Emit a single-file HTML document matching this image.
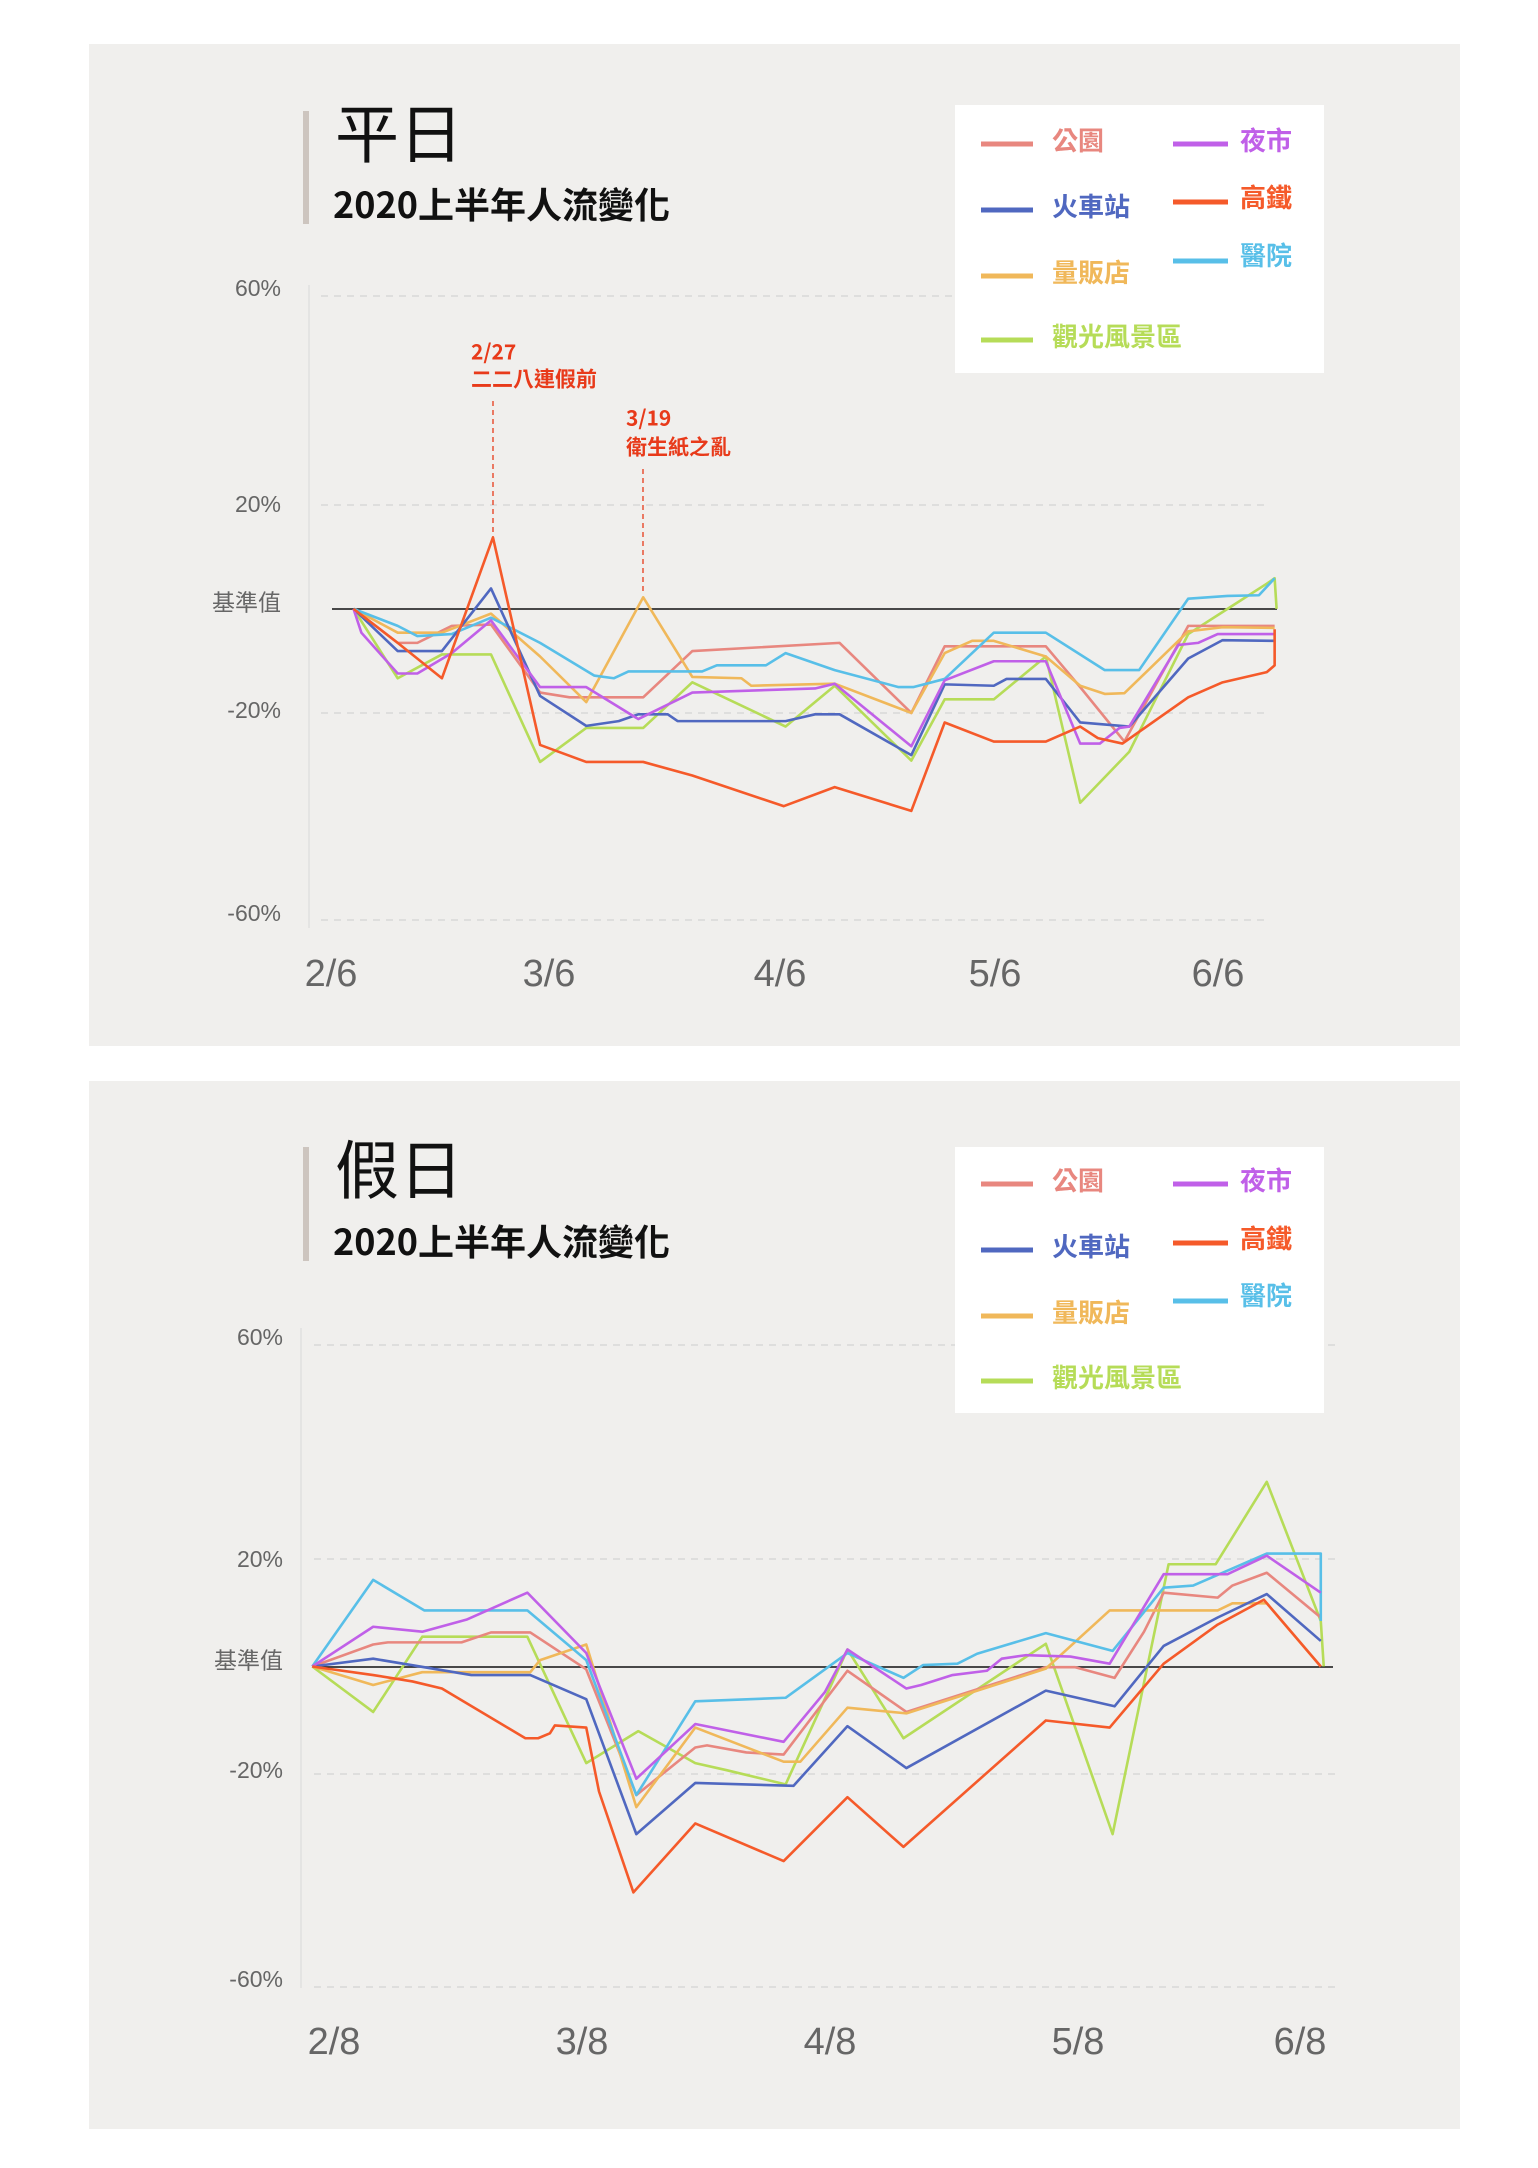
<!DOCTYPE html>
<html><head><meta charset="utf-8"><style>
html,body{margin:0;padding:0;background:#fff;}
svg{display:block;}
text{font-family:"Liberation Sans","Noto Sans CJK TC",sans-serif;}
.cj{font-family:"Noto Sans CJK TC","WenQuanYi Zen Hei",sans-serif;}
.ln{fill:none;stroke-width:2.6;vector-effect:non-scaling-stroke;stroke-linejoin:round;}
.yl{font-size:23px;fill:#666;text-anchor:end;dominant-baseline:middle;}
.xl{font-size:38px;fill:#666;text-anchor:middle;dominant-baseline:middle;}
.lg{font-size:26px;font-weight:bold;dominant-baseline:middle;}
.grid{stroke:#d4d4d4;stroke-width:1.2;stroke-dasharray:7 6;}
</style></head><body>
<svg width="1538" height="2168" viewBox="0 0 1538 2168" xmlns="http://www.w3.org/2000/svg">
<rect x="0" y="0" width="1538" height="2168" fill="#fff"/>
<!-- TOP PANEL -->
<rect x="89" y="44" width="1371" height="1002" fill="#f0efed"/>
<rect x="303" y="111" width="6" height="113" fill="#cdc5bf"/>
<text class="cj" x="335" y="140" font-size="64" fill="#111" dominant-baseline="middle">平日</text>
<text class="cj" x="333" y="208" font-size="36" font-weight="bold" fill="#111" dominant-baseline="middle">2020上半年人流變化</text>
<line x1="309" y1="285" x2="309" y2="928" stroke="#ddd" stroke-width="1.2"/>
<line class="grid" x1="321" y1="296" x2="1266" y2="296"/>
<line class="grid" x1="321" y1="505" x2="1266" y2="505"/>
<line class="grid" x1="321" y1="713" x2="1266" y2="713"/>
<line class="grid" x1="321" y1="920" x2="1266" y2="920"/>
<text class="yl" x="281" y="290">60%</text>
<text class="yl" x="281" y="506">20%</text>
<text class="yl cj" x="281" y="604">基準值</text>
<text class="yl" x="281" y="712">-20%</text>
<text class="yl" x="281" y="915">-60%</text>
<text class="xl" x="331" y="976">2/6</text>
<text class="xl" x="549" y="976">3/6</text>
<text class="xl" x="780" y="976">4/6</text>
<text class="xl" x="995" y="976">5/6</text>
<text class="xl" x="1218" y="976">6/6</text>
<line x1="332" y1="609" x2="1277" y2="609" stroke="#111" stroke-width="1.6"/>
<line x1="493" y1="401" x2="493" y2="537" stroke="#e83a1a" stroke-width="1.3" stroke-dasharray="5 4"/>
<line x1="643" y1="469" x2="643" y2="595" stroke="#e83a1a" stroke-width="1.3" stroke-dasharray="5 4"/>
<text class="cj" x="471" y="354" font-size="21" font-weight="bold" fill="#e83a1a" dominant-baseline="middle">2/27</text>
<text class="cj" x="471" y="381" font-size="21" font-weight="bold" fill="#e83a1a" dominant-baseline="middle">二二八連假前</text>
<text class="cj" x="626" y="420" font-size="21" font-weight="bold" fill="#e83a1a" dominant-baseline="middle">3/19</text>
<text class="cj" x="626" y="449" font-size="21" font-weight="bold" fill="#e83a1a" dominant-baseline="middle">衛生紙之亂</text>
<g transform="scale(0.982,0.6803)">
<polyline class="ln" stroke="#b6dc58" points="360,895 405,997 450,962 500,962 550,1120 597,1070 655,1070 705,1003 800,1068 850,1008 928,1118 962,1028 1012,1028 1065,965 1100,1180 1150,1105 1210,932 1250,895 1290,858 1298,850 1300,895"/>
<polyline class="ln" stroke="#e8877f" points="360,895 405,945 425,945 460,920 500,918 550,1018 580,1025 655,1025 705,957 855,945 928,1048 962,950 1065,950 1100,1010 1145,1090 1210,920 1298,920"/>
<polyline class="ln" stroke="#f0b85a" points="360,895 405,930 450,930 500,902 550,965 597,1032 655,878 705,995 755,997 765,1008 850,1005 928,1048 962,960 990,942 1012,942 1065,965 1100,1008 1125,1020 1145,1019 1210,928 1245,922 1298,923"/>
<polyline class="ln" stroke="#58bfe8" points="360,895 405,920 425,935 460,932 500,908 550,945 605,993 625,997 640,987 715,987 730,978 780,978 800,960 850,985 915,1010 930,1010 962,998 1012,930 1065,930 1125,985 1160,985 1210,880 1250,876 1282,875 1298,850"/>
<polyline class="ln" stroke="#5068c0" points="360,895 405,957 450,957 500,865 550,1023 597,1067 630,1060 650,1050 680,1050 690,1060 800,1060 830,1050 855,1050 928,1110 962,1006 1012,1008 1025,998 1065,998 1100,1062 1150,1068 1210,968 1245,941 1298,942"/>
<polyline class="ln" stroke="#c060e8" points="360,895 368,930 405,990 425,990 460,960 500,912 550,1010 597,1010 650,1057 705,1018 830,1012 850,1005 928,1097 962,1000 1012,972 1065,972 1100,1093 1120,1093 1140,1070 1150,1068 1200,948 1220,945 1240,932 1298,932"/>
<polyline class="ln" stroke="#f55a2a" points="360,895 405,945 450,997 502,790 550,1095 597,1120 655,1120 705,1140 798,1185 850,1157 928,1192 962,1062 1012,1090 1065,1090 1100,1068 1118,1085 1143,1093 1210,1025 1245,1003 1290,988 1298,978 1298,925"/>
</g>
<rect x="955" y="105" width="369" height="268" fill="#fff"/>
<g stroke-width="5">
<line x1="981" y1="144" x2="1033" y2="144" stroke="#e8877f"/>
<line x1="981" y1="210" x2="1033" y2="210" stroke="#5068c0"/>
<line x1="981" y1="276" x2="1033" y2="276" stroke="#f0b85a"/>
<line x1="981" y1="340" x2="1033" y2="340" stroke="#b6dc58"/>
<line x1="1173" y1="144" x2="1228" y2="144" stroke="#c060e8"/>
<line x1="1173" y1="202" x2="1228" y2="202" stroke="#f55a2a"/>
<line x1="1173" y1="261" x2="1228" y2="261" stroke="#58bfe8"/>
</g>
<text class="lg cj" x="1052" y="143" fill="#e8877f">公園</text>
<text class="lg cj" x="1052" y="209" fill="#5068c0">火車站</text>
<text class="lg cj" x="1052" y="275" fill="#f0b85a">量販店</text>
<text class="lg cj" x="1052" y="339" fill="#b6dc58">觀光風景區</text>
<text class="lg cj" x="1240" y="143" fill="#c060e8">夜市</text>
<text class="lg cj" x="1240" y="200" fill="#f55a2a">高鐵</text>
<text class="lg cj" x="1240" y="258" fill="#58bfe8">醫院</text>

<!-- BOTTOM PANEL -->
<rect x="89" y="1081" width="1371" height="1048" fill="#f0efed"/>
<rect x="303" y="1147" width="6" height="114" fill="#cdc5bf"/>
<text class="cj" x="335" y="1176" font-size="64" fill="#111" dominant-baseline="middle">假日</text>
<text class="cj" x="333" y="1245" font-size="36" font-weight="bold" fill="#111" dominant-baseline="middle">2020上半年人流變化</text>
<line x1="301" y1="1328" x2="301" y2="1988" stroke="#ddd" stroke-width="1.2"/>
<line class="grid" x1="314" y1="1345" x2="1336" y2="1345"/>
<line class="grid" x1="314" y1="1559" x2="1336" y2="1559"/>
<line class="grid" x1="314" y1="1774" x2="1336" y2="1774"/>
<line class="grid" x1="314" y1="1987" x2="1336" y2="1987"/>
<text class="yl" x="283" y="1339">60%</text>
<text class="yl" x="283" y="1561">20%</text>
<text class="yl cj" x="283" y="1662">基準值</text>
<text class="yl" x="283" y="1772">-20%</text>
<text class="yl" x="283" y="1981">-60%</text>
<text class="xl" x="334" y="2044">2/8</text>
<text class="xl" x="582" y="2044">3/8</text>
<text class="xl" x="830" y="2044">4/8</text>
<text class="xl" x="1078" y="2044">5/8</text>
<text class="xl" x="1300" y="2044">6/8</text>
<line x1="312" y1="1667" x2="1333" y2="1667" stroke="#111" stroke-width="1.6"/>
<g transform="translate(0,1060) scale(0.982,0.7102)">
<polyline class="ln" stroke="#b6dc58" points="318,854 380,918 430,812 537,812 597,990 650,945 708,990 740,1000 800,1020 863,830 920,955 1065,822 1133,1090 1190,710 1238,710 1290,594 1345,790 1348,854"/>
<polyline class="ln" stroke="#e8877f" points="318,854 380,823 395,820 470,820 500,806 540,806 597,858 648,1035 708,968 720,965 760,975 798,978 863,860 923,918 1065,855 1095,855 1135,870 1165,805 1185,750 1240,757 1255,740 1290,722 1345,785"/>
<polyline class="ln" stroke="#f0b85a" points="318,854 380,880 430,862 540,862 550,845 597,823 648,1052 708,940 798,988 815,988 863,912 923,920 1065,857 1130,775 1240,775 1255,765 1290,765 1345,854"/>
<polyline class="ln" stroke="#58bfe8" points="318,854 380,732 432,775 537,775 597,845 648,1035 708,903 800,898 863,835 920,870 940,852 975,850 995,836 1065,807 1133,832 1185,743 1215,740 1290,695 1345,695 1345,790"/>
<polyline class="ln" stroke="#5068c0" points="318,854 380,843 480,866 540,866 597,900 648,1090 708,1018 808,1022 863,938 923,997 1065,888 1135,910 1185,825 1240,785 1290,752 1345,818"/>
<polyline class="ln" stroke="#c060e8" points="318,854 380,798 430,805 475,788 537,750 597,835 648,1012 708,935 798,960 840,890 863,830 923,885 938,880 970,866 1005,860 1020,843 1045,838 1090,840 1130,850 1185,724 1250,724 1290,698 1345,750"/>
<polyline class="ln" stroke="#f55a2a" points="318,854 380,866 420,875 450,885 535,955 548,955 560,948 565,937 597,940 610,1030 645,1172 708,1075 798,1128 863,1038 920,1108 1065,930 1130,940 1185,850 1240,795 1287,760 1345,854"/>
</g>
<rect x="955" y="1147" width="369" height="266" fill="#fff"/>
<g stroke-width="5">
<line x1="981" y1="1184" x2="1033" y2="1184" stroke="#e8877f"/>
<line x1="981" y1="1250" x2="1033" y2="1250" stroke="#5068c0"/>
<line x1="981" y1="1316" x2="1033" y2="1316" stroke="#f0b85a"/>
<line x1="981" y1="1381" x2="1033" y2="1381" stroke="#b6dc58"/>
<line x1="1173" y1="1184" x2="1228" y2="1184" stroke="#c060e8"/>
<line x1="1173" y1="1243" x2="1228" y2="1243" stroke="#f55a2a"/>
<line x1="1173" y1="1301" x2="1228" y2="1301" stroke="#58bfe8"/>
</g>
<text class="lg cj" x="1052" y="1183" fill="#e8877f">公園</text>
<text class="lg cj" x="1052" y="1249" fill="#5068c0">火車站</text>
<text class="lg cj" x="1052" y="1315" fill="#f0b85a">量販店</text>
<text class="lg cj" x="1052" y="1380" fill="#b6dc58">觀光風景區</text>
<text class="lg cj" x="1240" y="1183" fill="#c060e8">夜市</text>
<text class="lg cj" x="1240" y="1241" fill="#f55a2a">高鐵</text>
<text class="lg cj" x="1240" y="1298" fill="#58bfe8">醫院</text>
</svg>
</body></html>
